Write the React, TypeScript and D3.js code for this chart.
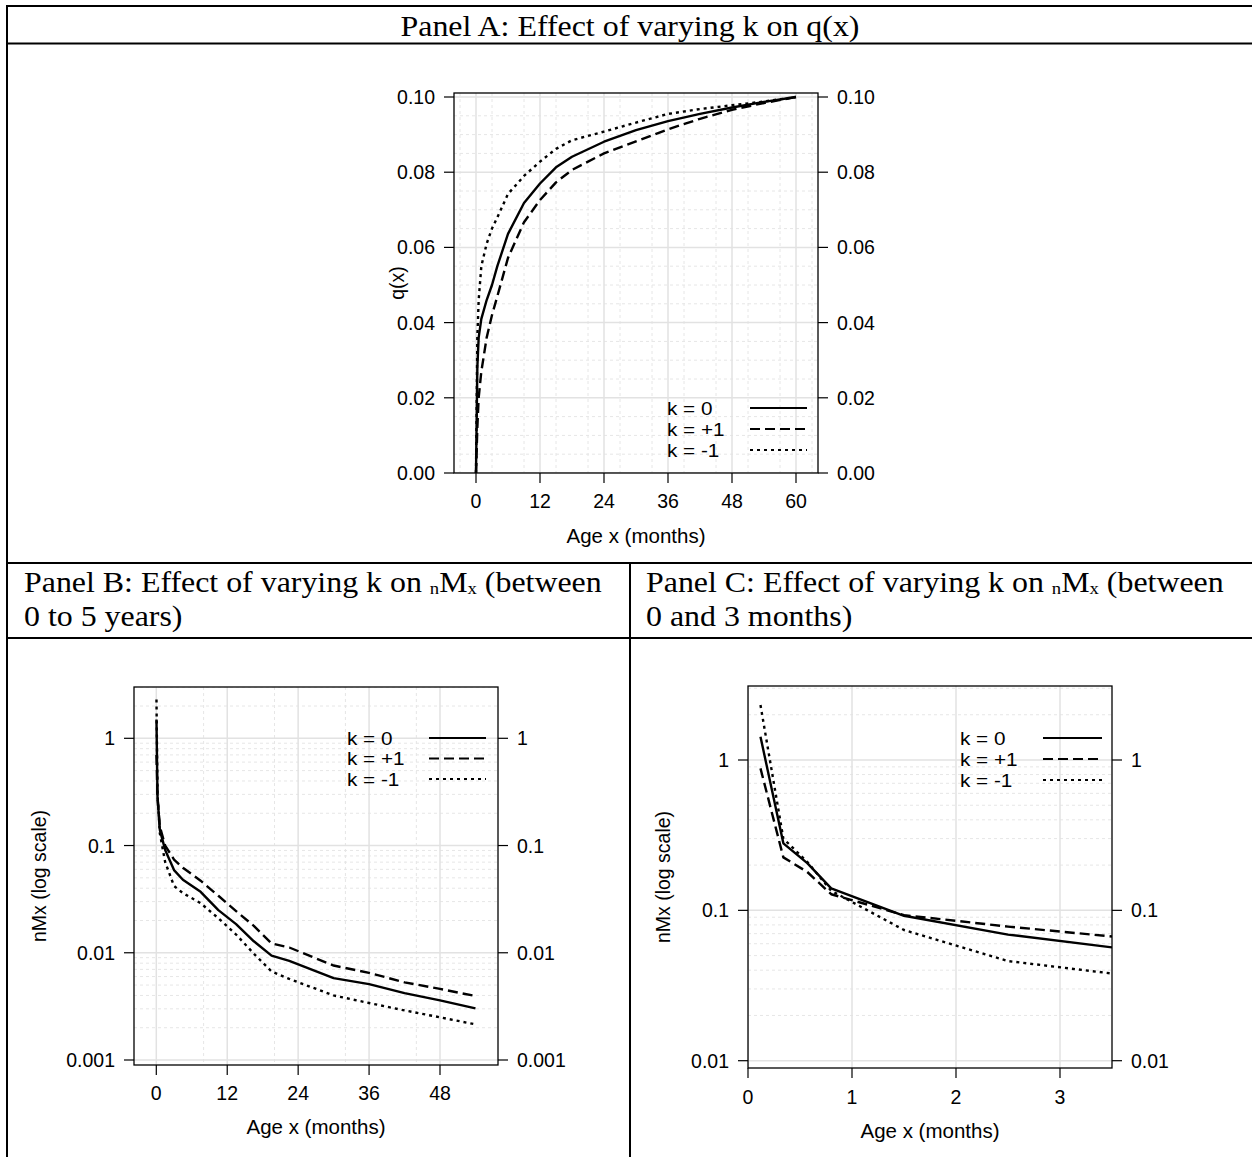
import React from 'react';
import * as d3 from 'd3';

// ---------- DATA ----------
// Panel A: q(x) by age (months)
const ageA = [0, 0.25, 0.5, 1, 2, 3, 4, 6, 9, 12, 15, 18, 24, 30, 36, 42, 48, 54, 60];
const qK0 = [0, 0.028, 0.036, 0.041, 0.046, 0.050, 0.055, 0.0636, 0.0718, 0.077, 0.0813, 0.0841, 0.0881, 0.0912, 0.0936, 0.0955, 0.0972, 0.0987, 0.1];
const qKp1 = [0, 0.012, 0.02, 0.027, 0.036, 0.042, 0.047, 0.0572, 0.0667, 0.0726, 0.0773, 0.0806, 0.085, 0.0882, 0.0914, 0.0942, 0.0966, 0.0984, 0.1];
const qKm1 = [0, 0.036, 0.046, 0.055, 0.061, 0.065, 0.068, 0.0742, 0.079, 0.0828, 0.0862, 0.0885, 0.0908, 0.0932, 0.0955, 0.0968, 0.0978, 0.0988, 0.1];

// Panel B: nMx by age (months), 0-5 years
const ageB = [0.03, 0.2, 0.6, 1.5, 3, 4.5, 7.5, 10.5, 13.5, 16.5, 19.5, 22.5, 30, 36, 42, 48, 54];
const mB_K0 = [1.5, 0.29, 0.14, 0.091, 0.059, 0.048, 0.037, 0.025, 0.0185, 0.0128, 0.0094, 0.0084, 0.0058, 0.0051, 0.0042, 0.0036, 0.00303];
const mB_Kp1 = [0.7, 0.28, 0.15, 0.1, 0.074, 0.062, 0.047, 0.034, 0.0245, 0.0178, 0.0122, 0.0112, 0.0076, 0.0065, 0.0053, 0.0046, 0.00395];
const mB_Km1 = [2.3, 0.3, 0.13, 0.07, 0.042, 0.036, 0.029, 0.021, 0.0148, 0.0098, 0.0067, 0.0057, 0.0040, 0.0034, 0.0029, 0.0025, 0.00215];

// Panel C: nMx by age (months), 0-3 months
const ageC = [0.12, 0.34, 0.57, 0.8, 1.5, 2.5, 3.5];
const mC_K0 = [1.43, 0.279, 0.206, 0.14, 0.092, 0.069, 0.0567];
const mC_Kp1 = [0.88, 0.225, 0.18, 0.128, 0.093, 0.078, 0.067];
const mC_Km1 = [2.32, 0.30, 0.21, 0.135, 0.074, 0.046, 0.038];

const legendLabels = ['k = 0', 'k = +1', 'k = -1'];
const xTicksA = [0, 12, 24, 36, 48, 60];
const yTicksA = [0, 0.02, 0.04, 0.06, 0.08, 0.1];
const xTicksB = [0, 12, 24, 36, 48];
const yTicksB = [0.001, 0.01, 0.1, 1];
const xTicksC = [0, 1, 2, 3];
const yTicksC = [0.01, 0.1, 1];

// ---------- STYLE ----------
const sans = "'Liberation Sans', Arial, Helvetica, sans-serif";
const serif = "'Liberation Serif', 'Times New Roman', serif";
const dashes = [null, '10,5', '3,4'];
const gridMajor = '#e2e2e2';
const gridMinor = '#e6e6e6';

type Box = { l: number; r: number; t: number; b: number };

function logMinor(lo: number, hi: number) {
  const out: number[] = [];
  for (let e = lo; e < hi; e++) {
    for (let m = 2; m <= 9; m++) out.push(m * Math.pow(10, e));
  }
  return out;
}

function Panel(props: any) {
  const { id, box, x, y, xTicks, yTicks, yFmt, xMinor, yMinor, series, legend, xLabel, yLabel, yLabelX, xTickY, xLabelY } = props;
  const b: Box = box;
  const line = (xs: number[], ys: number[]) =>
    d3.line<number>().x((_, i) => x(xs[i])).y((_, i) => y(ys[i]))(xs) || '';
  const fs = 19.5;
  return (
    <g>
      <defs>
        <clipPath id={id}>
          <rect x={b.l} y={b.t} width={b.r - b.l} height={b.b - b.t} />
        </clipPath>
      </defs>
      <g clipPath={`url(#${id})`}>
        {yMinor.map((v: number, i: number) => (
          <line key={'ym' + i} x1={b.l} x2={b.r} y1={y(v)} y2={y(v)} stroke={gridMinor} strokeWidth={1} strokeDasharray="3,3" />
        ))}
        {xMinor.map((v: number, i: number) => (
          <line key={'xm' + i} x1={x(v)} x2={x(v)} y1={b.t} y2={b.b} stroke={gridMinor} strokeWidth={1} strokeDasharray="3,3" />
        ))}
        {yTicks.map((v: number, i: number) => (
          <line key={'yg' + i} x1={b.l} x2={b.r} y1={y(v)} y2={y(v)} stroke={gridMajor} strokeWidth={1.5} />
        ))}
        {xTicks.map((v: number, i: number) => (
          <line key={'xg' + i} x1={x(v)} x2={x(v)} y1={b.t} y2={b.b} stroke={gridMajor} strokeWidth={1.5} />
        ))}
        {series.map((s: any, i: number) => (
          <path key={'s' + i} d={line(s.xs, s.ys)} fill="none" stroke="#000" strokeWidth={2.4}
            strokeDasharray={dashes[i] || undefined} strokeLinejoin="round" />
        ))}
      </g>
      <rect x={b.l} y={b.t} width={b.r - b.l} height={b.b - b.t} fill="none" stroke="#000" strokeWidth={1.3} />
      {yTicks.map((v: number, i: number) => (
        <g key={'yt' + i}>
          <line x1={b.l - 10} x2={b.l} y1={y(v)} y2={y(v)} stroke="#000" strokeWidth={1.2} />
          <line x1={b.r} x2={b.r + 10} y1={y(v)} y2={y(v)} stroke="#000" strokeWidth={1.2} />
          <text x={b.l - 19} y={y(v) + 7} textAnchor="end" fontFamily={sans} fontSize={fs}>{yFmt(v)}</text>
          <text x={b.r + 19} y={y(v) + 7} textAnchor="start" fontFamily={sans} fontSize={fs}>{yFmt(v)}</text>
        </g>
      ))}
      {xTicks.map((v: number, i: number) => (
        <g key={'xt' + i}>
          <line x1={x(v)} x2={x(v)} y1={b.b} y2={b.b + 10} stroke="#000" strokeWidth={1.2} />
          <text x={x(v)} y={xTickY} textAnchor="middle" fontFamily={sans} fontSize={fs}>{String(v)}</text>
        </g>
      ))}
      <text x={(b.l + b.r) / 2} y={xLabelY} textAnchor="middle" fontFamily={sans} fontSize={20.5}>{xLabel}</text>
      <text transform={`translate(${yLabelX},${(b.t + b.b) / 2}) rotate(-90)`} textAnchor="middle" fontFamily={sans} fontSize={19.5}>{yLabel}</text>
      {legendLabels.map((lab, i) => {
        const ly = legend.y0 + i * legend.gap;
        return (
          <g key={'lg' + i}>
            <text transform={`translate(${legend.tx},${ly + 6.8}) scale(1.12,1)`} fontFamily={sans} fontSize={18.5}>{lab}</text>
            <line x1={legend.x1} x2={legend.x2} y1={ly} y2={ly} stroke="#000" strokeWidth={2.2}
              strokeDasharray={dashes[i] || undefined} />
          </g>
        );
      })}
    </g>
  );
}

export default function App() {
  const boxA: Box = { l: 454, r: 818, t: 93, b: 473 };
  const xA = d3.scaleLinear().domain([0, 60]).range([476, 796]);
  const yA = d3.scaleLinear().domain([0, 0.1]).range([473, 97]);
  const xMinorA = d3.range(-3, 64, 6);
  const yMinorA = d3.range(0.005, 0.1, 0.005).filter((v) => Math.abs(v / 0.02 - Math.round(v / 0.02)) > 1e-6);

  const boxB: Box = { l: 134, r: 498, t: 687, b: 1065 };
  const xB = d3.scaleLinear().domain([0, 48]).range([156.3, 440]);
  const yB = d3.scaleLog().domain([0.001, 1]).range([1060, 738.3]);

  const boxC: Box = { l: 748, r: 1112, t: 686, b: 1068 };
  const xC = d3.scaleLinear().domain([0, 3]).range([748, 1060]);
  const yC = d3.scaleLog().domain([0.01, 1]).range([1060.7, 760]);

  const fmtA = d3.format('.2f');
  const fmtLog = (v: number) => String(v);

  const tfs = 29;
  const border = { stroke: '#000', strokeWidth: 2 };

  return (
    <svg width={1252} height={1157} style={{ position: 'absolute', left: 0, top: 0, background: '#fff' }}>
      <rect x={0} y={0} width={1252} height={1157} fill="#fff" />
      <line x1={6} x2={1252} y1={6} y2={6} {...border} />
      <line x1={7} x2={7} y1={5} y2={1157} {...border} />
      <line x1={6} x2={1252} y1={43.5} y2={43.5} {...border} />
      <line x1={6} x2={1252} y1={563} y2={563} {...border} />
      <line x1={6} x2={1252} y1={638} y2={638} {...border} />
      <line x1={630} x2={630} y1={563} y2={1157} {...border} />

      <text transform={`translate(630,36) scale(1.1,1)`} textAnchor="middle" fontFamily={serif} fontSize={tfs}>
        Panel A: Effect of varying k on q(x)
      </text>
      <text transform={`translate(24,592) scale(1.1,1)`} fontFamily={serif} fontSize={tfs}>
        {'Panel B: Effect of varying k on '}
        <tspan fontSize={17} dy={2}>n</tspan>
        <tspan dy={-2}>M</tspan>
        <tspan fontSize={17} dy={2}>x</tspan>
        <tspan dy={-2}>{' (between'}</tspan>
      </text>
      <text transform={`translate(24,626) scale(1.1,1)`} fontFamily={serif} fontSize={tfs}>0 to 5 years)</text>
      <text transform={`translate(646,592) scale(1.1,1)`} fontFamily={serif} fontSize={tfs}>
        {'Panel C: Effect of varying k on '}
        <tspan fontSize={17} dy={2}>n</tspan>
        <tspan dy={-2}>M</tspan>
        <tspan fontSize={17} dy={2}>x</tspan>
        <tspan dy={-2}>{' (between'}</tspan>
      </text>
      <text transform={`translate(646,626) scale(1.1,1)`} fontFamily={serif} fontSize={tfs}>0 and 3 months)</text>

      <Panel id="clipA" box={boxA} x={xA} y={yA} xTicks={xTicksA} yTicks={yTicksA} yFmt={fmtA}
        xMinor={xMinorA} yMinor={yMinorA}
        series={[{ xs: ageA, ys: qK0 }, { xs: ageA, ys: qKp1 }, { xs: ageA, ys: qKm1 }]}
        legend={{ tx: 667, y0: 408, gap: 21, x1: 750, x2: 807 }}
        xLabel="Age x (months)" yLabel="q(x)" yLabelX={404} xTickY={508} xLabelY={543} />

      <Panel id="clipB" box={boxB} x={xB} y={yB} xTicks={xTicksB} yTicks={yTicksB} yFmt={fmtLog}
        xMinor={[8, 20, 32, 44]} yMinor={logMinor(-3, 1)}
        series={[{ xs: ageB, ys: mB_K0 }, { xs: ageB, ys: mB_Kp1 }, { xs: ageB, ys: mB_Km1 }]}
        legend={{ tx: 347, y0: 738, gap: 20.5, x1: 429, x2: 486 }}
        xLabel="Age x (months)" yLabel="nMx (log scale)" yLabelX={46} xTickY={1100} xLabelY={1134} />

      <Panel id="clipC" box={boxC} x={xC} y={yC} xTicks={xTicksC} yTicks={yTicksC} yFmt={fmtLog}
        xMinor={[]} yMinor={logMinor(-2, 1)}
        series={[{ xs: ageC, ys: mC_K0 }, { xs: ageC, ys: mC_Kp1 }, { xs: ageC, ys: mC_Km1 }]}
        legend={{ tx: 960, y0: 738, gap: 21, x1: 1043, x2: 1102 }}
        xLabel="Age x (months)" yLabel="nMx (log scale)" yLabelX={670} xTickY={1104} xLabelY={1138} />
    </svg>
  );
}
